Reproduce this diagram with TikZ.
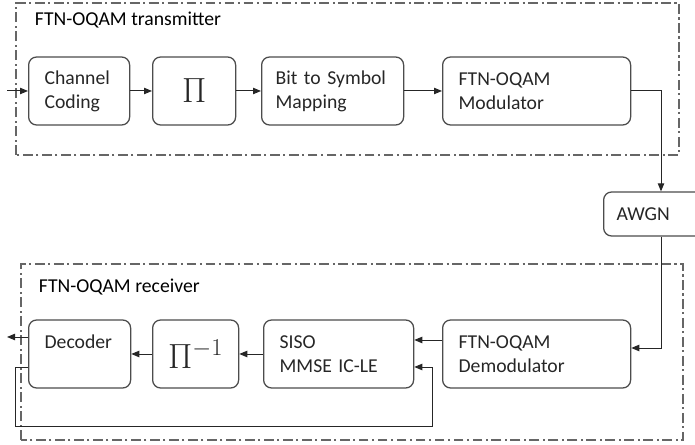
\documentclass[tikz,border=0pt]{standalone}
\usepackage{fontspec}
\setmainfont{Carlito}
\usetikzlibrary{arrows.meta}
\begin{document}
\begin{tikzpicture}[
    font=\fontsize{14}{17}\selectfont,
    frame/.style={draw=black!60, line width=0.8pt, dash pattern=on 7pt off 2.5pt on 1.5pt off 2.5pt},
    blk/.style={draw=black!70, line width=0.9pt, rounded corners=0.2cm, minimum height=1.7cm,
        align=left, inner xsep=0.4cm, anchor=west, text=black!85},
    pibox/.style={blk, align=center, inner xsep=0pt, font=\fontsize{25}{25}\selectfont},
    arr/.style={draw=black!85, line width=0.7pt, -{Triangle[length=2mm,width=1.6mm]}},
  ]
    \useasboundingbox (0,0) rectangle (17.375,11.125);
    % ---------- transmitter ----------
    \draw[frame] (0.4,7.25) rectangle (16.975,11.05);
    \node[anchor=west] (txlabel) at (0.75,10.62) {FTN-OQAM transmitter};
    \node[blk, text width=1.725cm] (cc) at (0.7,8.85) {Channel\\Coding};
    \node[pibox, minimum width=2.075cm] (pi) at (3.8,8.85) {$\Pi$};
    \node[blk, text width=2.85cm, inner xsep=0.35cm] (bts) at (6.525,8.85) {\mbox{Bit to Symbol}\\Mapping};
    \node[blk, text width=3.9cm] (mod) at (11.05,8.85) {FTN-OQAM\\Modulator};
    \coordinate (in) at (0.175,8.85);
    \draw[arr] (in) -- (cc.west);
    \draw[arr] (cc.east) -- (pi.west);
    \draw[arr] (pi.east) -- (bts.west);
    \draw[arr] (bts.east) -- (mod.west);
    % ---------- channel ----------
    \node[blk, minimum height=1.1cm, text width=2.4cm, inner xsep=0.325cm] (awgn) at (15.075,5.775) {AWGN};
    \coordinate (ch) at (16.525,5.775);
    \draw[arr] (mod.east) -| (ch |- awgn.north);
    % ---------- receiver ----------
    \draw[frame] (0.525,0.125) rectangle (17.075,4.525);
    \node[anchor=west] (rxlabel) at (0.85,3.96) {FTN-OQAM receiver};
    \node[blk, text width=3.9cm] (demod) at (11.05,2.275) {FTN-OQAM\\Demodulator};
    \node[blk, text width=2.95cm] (siso) at (6.575,2.275) {SISO\\MMSE IC-LE};
    \node[pibox, minimum width=2.15cm] (pinv) at (3.8,2.275) {$\Pi^{-1}$};
    \node[blk, text width=1.75cm] (dec) at (0.7,2.275) {Decoder\\~};
    \coordinate (out) at (0.175,2.7);
    \coordinate (fbl) at (0.375,0.475);
    \coordinate (fbr) at (10.8,0.475);
    \draw[arr] (ch |- awgn.south) |- ([yshift=0.15cm]demod.east);
    \draw[arr] ([yshift=0.35cm]demod.west) -- ([yshift=0.35cm]siso.east);
    \draw[arr] (siso.west) -- (pinv.east);
    \draw[arr] (pinv.west) -- (dec.east);
    \draw[arr] ([yshift=0.425cm]dec.west) -- (out);
    % ---------- feedback ----------
    \draw[arr] ([yshift=-0.325cm]dec.west) -| (fbl) -- (fbr) |- ([yshift=-0.325cm]siso.east);
\end{tikzpicture}
\end{document}
